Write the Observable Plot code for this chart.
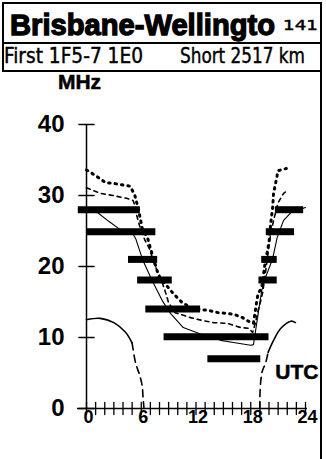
<!DOCTYPE html>
<html><head><meta charset="utf-8">
<script src="https://cdn.jsdelivr.net/npm/d3@7"></script>
<script src="https://cdn.jsdelivr.net/npm/@observablehq/plot@0.6"></script>
<style>
html,body{margin:0;padding:0;background:#fff;}
#page{position:relative;width:326px;height:459px;overflow:hidden;background:#fff;}
#chart{position:absolute;left:0;top:70px;}
#head{position:absolute;left:0;top:0;}
#rightline{position:absolute;left:320px;top:2px;width:2px;height:457px;background:#000;}
</style>
</head><body>
<div id="page"><div id="chart"></div><svg id="head" width="326" height="74"></svg><div id="rightline"></div></div>
<script>
// ---- header texts ----
const titleText = "Brisbane-Wellingto";
const titleNumber = "141";
const modeText = "First 1F5-7 1E0";
const pathText = "Short 2517 km";

// ---- axis ticks ----
const yTickValues = [0, 10, 20, 30, 40];
const xLabelValues = [0, 6, 12, 18, 24];
const xTickHours = [0,1,2,3,4,5,6,7,8,9,10,11,12,13,14,15,16,17,18,19,20,21,22,23,24];

// ---- band openings (thick bars): MHz, start hour, end hour (UTC) ----
const barMHz   = [28,   28,   24.9, 24.9, 21,  21,   18.1, 18.1, 14,   10.1, 7];
const barStart = [-0.9, 20.7, 0.0,  19.7, 4.6, 19.2, 5.6,  18.9, 6.5,  8.5,  13.3];
const barEnd   = [5.9,  23.8, 7.6,  22.8, 7.8, 20.9, 9.4,  20.9, 12.5, 20.0, 19.1];

// ---- median MUF (solid) ----
const mufHours = [0, 1.2, 2.4, 3.7, 5.0, 5.4, 6.2, 7.2, 8.3, 9.2, 10.6, 12.5, 14.7, 16.1, 18.0, 18.3, 18.5, 19.2, 19.6, 20.4, 20.9, 21.6, 22.4, 24];
const mufMHz   = [28.3, 27.6, 26.4, 25.2, 24.8, 23.9, 20.8, 18.0, 15.2, 13.4, 11.4, 10.5, 9.6, 9.3, 8.9, 9.0, 10.7, 16.6, 18.4, 21.1, 24.1, 26.5, 27.6, 28.3];

// ---- upper MUF (large dots) ----
const hiHours = [0, 1.0, 2.1, 3.0, 3.9, 4.8, 5.3, 5.7, 6.1, 6.7, 7.0, 7.9, 9.5, 10.5, 11.6, 13.4, 14.4, 15.5, 16.3, 17.1, 18.0, 18.3, 18.5, 18.8, 19.2, 19.6, 19.8, 20.0, 20.2, 20.4, 20.5, 21.0, 21.9];
const hiMHz   = [33.6, 32.8, 31.8, 31.7, 31.5, 31.3, 30.0, 28.0, 25.4, 24.0, 22.6, 18.7, 16.2, 14.9, 14.1, 13.8, 13.5, 13.4, 13.2, 12.8, 12.1, 12.0, 13.8, 16.2, 17.0, 20.8, 22.0, 23.4, 26.2, 28.3, 30.3, 33.5, 33.8];

// ---- intermediate MUF (small dashes) ----
const midHours = [0, 1.5, 2.9, 4.4, 5.1, 5.3, 5.5, 5.8, 6.4, 6.9, 7.5, 8.1, 8.6, 9.0, 9.7, 11.4, 12.7, 13.9, 15.4, 16.9, 17.8, 18.2, 18.5, 18.8, 19.1, 19.3, 19.6, 19.9, 20.2, 20.6, 21.0, 21.6, 22.0];
const midMHz   = [31.1, 30.3, 30.0, 29.6, 29.3, 28.6, 27.2, 25.8, 23.7, 22.5, 20.1, 18.5, 16.6, 14.9, 13.5, 12.8, 12.4, 12.1, 12.0, 11.4, 11.3, 10.7, 12.0, 13.8, 15.2, 16.3, 19.0, 22.0, 24.8, 27.0, 29.0, 30.3, 30.7];

// ---- lower curve (solid top, dashed ends) ----
const lufLeftHours  = [0, 1.5, 3.0, 4.3, 5.0];
const lufLeftMHz    = [12.5, 12.7, 12.1, 10.7, 9.2];
const lufLeftDHours = [5.0, 5.4, 5.8, 6.1, 6.2, 6.3];
const lufLeftDMHz   = [9.2, 6.3, 4.8, 3.2, 1.5, 0];
const lufRightDHours = [19.0, 19.0, 19.1, 19.3, 19.6, 19.9];
const lufRightDMHz   = [0, 1.5, 3.9, 5.4, 6.3, 7.9];
const lufRightHours  = [19.9, 20.5, 21.3, 22.4, 22.9];
const lufRightMHz    = [7.9, 9.6, 11.3, 12.3, 12.1];

const zip = (hs, ms) => hs.map((h, i) => ({hour: h, mhz: ms[i]}));
const bars = barMHz.map((m, i) => ({mhz: m, start: barStart[i], end: barEnd[i]}));

// ---- header ----
const head = d3.select("#head");
head.append("line").attr("x1", 2).attr("x2", 322).attr("y1", 3).attr("y2", 3).attr("stroke", "#000").attr("stroke-width", 2);
head.append("line").attr("x1", 3).attr("x2", 3).attr("y1", 2).attr("y2", 71).attr("stroke", "#000").attr("stroke-width", 2);
head.append("line").attr("x1", 2).attr("x2", 322).attr("y1", 43).attr("y2", 43).attr("stroke", "#000").attr("stroke-width", 2);
head.append("line").attr("x1", 2).attr("x2", 322).attr("y1", 71).attr("y2", 71).attr("stroke", "#000").attr("stroke-width", 2);
head.append("text").text(titleText).attr("x", 10).attr("y", 35)
  .attr("font-family", "Liberation Sans, Arial, sans-serif").attr("font-weight", "bold").attr("font-size", 30)
  .attr("stroke", "#000").attr("stroke-width", 1.3)
  .attr("textLength", 265).attr("lengthAdjust", "spacingAndGlyphs");
head.append("text").text(titleNumber).attr("x", 283).attr("y", 30)
  .attr("font-family", "Liberation Sans Narrow, DejaVu Sans Condensed, Liberation Sans, sans-serif").attr("font-size", 14)
  .attr("stroke", "#000").attr("stroke-width", 0.4)
  .attr("textLength", 35).attr("lengthAdjust", "spacingAndGlyphs");
head.append("text").text(modeText).attr("x", 4).attr("y", 63)
  .attr("font-family", "Liberation Sans Narrow, DejaVu Sans Condensed, Liberation Sans, sans-serif").attr("font-size", 21)
  .attr("stroke", "#000").attr("stroke-width", 0.4)
  .attr("textLength", 139).attr("lengthAdjust", "spacingAndGlyphs");
head.append("text").text(pathText).attr("x", 180).attr("y", 63)
  .attr("font-family", "Liberation Sans Narrow, DejaVu Sans Condensed, Liberation Sans, sans-serif").attr("font-size", 21)
  .attr("stroke", "#000").attr("stroke-width", 0.4)
  .attr("textLength", 125).attr("lengthAdjust", "spacingAndGlyphs");

// ---- chart ----
const tickShape = {draw(ctx, l) { ctx.moveTo(0, 0); ctx.lineTo(0, -l); }};

const chart = Plot.plot({
  width: 326, height: 389,
  marginLeft: 86, marginRight: 21, marginTop: 54, marginBottom: 51,
  x: {domain: [0, 24]},
  y: {domain: [0, 40]},
  style: {fontFamily: "Liberation Sans, Arial, sans-serif", background: "transparent", color: "#000", overflow: "visible"},
  marks: [
    Plot.axisY({ticks: yTickValues, tickSize: 0, tickPadding: 22, fontSize: 24, fontWeight: "bold", label: null, fill: "#000", stroke: "#000", strokeWidth: 0.7}),
    Plot.axisX({ticks: xLabelValues, tickSize: 0, tickPadding: 2, dx: 2, fontSize: 18, fontWeight: "bold", label: null, fill: "#000", stroke: "#000", strokeWidth: 0.6}),
    Plot.ruleX([0], {y1: 0, y2: 40, stroke: "#000", strokeWidth: 1.5}),
    Plot.ruleY([0], {insetLeft: -9, insetRight: -2, stroke: "#000", strokeWidth: 1.6}),
    Plot.vector(yTickValues, {x: 0, y: d => d, length: 15, rotate: 90, anchor: "middle", shape: tickShape, stroke: "#000", strokeWidth: 1.6}),
    Plot.vector(xTickHours, {x: d => d, y: 0, length: 12, anchor: "middle", shape: tickShape, stroke: "#000", strokeWidth: 1.3}),
    Plot.line(zip(lufLeftHours, lufLeftMHz), {x: "hour", y: "mhz", curve: "catmull-rom", stroke: "#000", strokeWidth: 1.6}),
    Plot.line(zip(lufLeftDHours, lufLeftDMHz), {x: "hour", y: "mhz", curve: "catmull-rom", stroke: "#000", strokeWidth: 1.6, strokeDasharray: "7,5"}),
    Plot.line(zip(lufRightDHours, lufRightDMHz), {x: "hour", y: "mhz", curve: "catmull-rom", stroke: "#000", strokeWidth: 1.6, strokeDasharray: "7,5"}),
    Plot.line(zip(lufRightHours, lufRightMHz), {x: "hour", y: "mhz", curve: "catmull-rom", stroke: "#000", strokeWidth: 1.6}),
    Plot.line(zip(midHours, midMHz), {x: "hour", y: "mhz", stroke: "#000", strokeWidth: 1.6, strokeDasharray: "4,4"}),
    Plot.line(zip(hiHours, hiMHz), {x: "hour", y: "mhz", stroke: "#000", strokeWidth: 3, strokeDasharray: "1.5,5", strokeLinecap: "round"}),
    Plot.line(zip(mufHours, mufMHz), {x: "hour", y: "mhz", stroke: "#000", strokeWidth: 1.1}),
    Plot.ruleY(bars, {y: "mhz", x1: "start", x2: "end", stroke: "#000", strokeWidth: 7}),
    Plot.text(["MHz"], {frameAnchor: "top-left", dx: -7, dy: -36, lineAnchor: "bottom", textAnchor: "middle", fontSize: 21, fontWeight: "bold", fill: "#000", stroke: "#000", strokeWidth: 0.5}),
    Plot.text(["UTC"], {frameAnchor: "bottom-right", dx: 13, dy: -30, lineAnchor: "bottom", textAnchor: "end", fontSize: 21, fontWeight: "bold", fill: "#000", stroke: "#000", strokeWidth: 0.5})
  ]
});
document.getElementById("chart").append(chart);
</script>
</body></html>
